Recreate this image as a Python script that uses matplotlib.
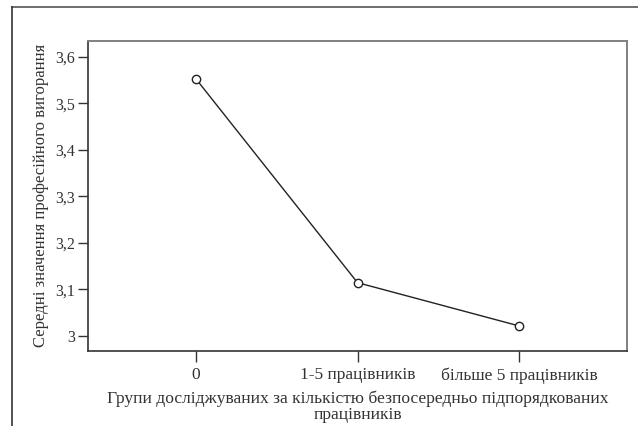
import matplotlib
matplotlib.use("Agg")
import matplotlib.pyplot as plt
from matplotlib.lines import Line2D
from matplotlib.ticker import FuncFormatter

# data
groups = ["0", "1-5 працівників", "більше 5 працівників"]
means = [3.552, 3.114, 3.021]
y_ticks = [3.0, 3.1, 3.2, 3.3, 3.4, 3.5, 3.6]

plt.rcParams['font.family'] = ['Liberation Serif', 'DejaVu Serif']

fig = plt.figure(figsize=(6.38, 4.26), dpi=100)
W, H = 638, 426

# outer frame (only top and left visible, rest is cut off)
fig.add_artist(Line2D([12 / W, 1], [1 - 7 / H, 1 - 7 / H], transform=fig.transFigure,
                      color='#555555', lw=1.2))
fig.add_artist(Line2D([12 / W, 12 / W], [0, 1 - 7 / H], transform=fig.transFigure,
                      color='#333333', lw=1.2))

ax = fig.add_axes([88 / W, 1 - 350.5 / H, (627 - 88) / W, (350.5 - 41) / H])
x = list(range(len(groups)))
ax.plot(x, means, color='#222222', lw=1.0, marker='o', markersize=6,
        markerfacecolor='white', markeredgecolor='#222222', markeredgewidth=1.0)

ax.set_xlim(-0.67, 2.67)
ax.set_ylim(2.968, 3.634)
ax.set_xticks(x)
ax.set_xticklabels(groups)
ax.set_yticks(y_ticks)
ax.yaxis.set_major_formatter(FuncFormatter(lambda v, p: ('%g' % round(v, 1)).replace('.', ',')))

for s in ['left', 'bottom']:
    ax.spines[s].set_color('#333333')
    ax.spines[s].set_linewidth(1.2)
for s in ['top', 'right']:
    ax.spines[s].set_color('#808080')
    ax.spines[s].set_linewidth(1.4)

ax.tick_params(axis='y', length=7, width=1, color='#333333', labelsize=11.5, pad=2,
               labelcolor='#333333')
ax.tick_params(axis='x', length=8, width=1, color='#333333', labelsize=12.5, pad=4,
               labelcolor='#333333')

ax.set_ylabel('Середні значення професійного вигорання', fontsize=12, color='#333333', labelpad=5)
ax.set_xlabel('Групи досліджуваних за кількістю безпосередньо підпорядкованих\nпрацівників',
              fontsize=12.6, color='#333333', labelpad=5, linespacing=0.95)

fig.savefig('out.png', dpi=100)
